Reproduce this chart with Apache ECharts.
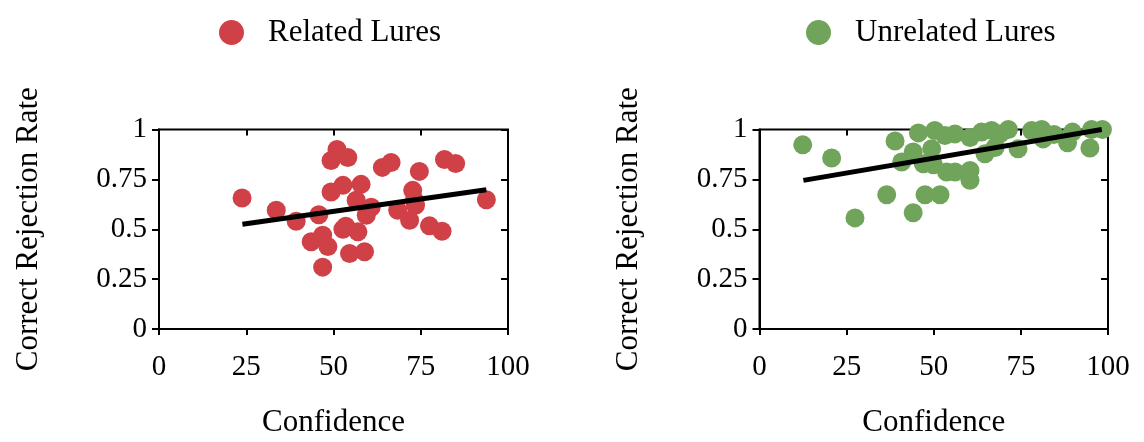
<!DOCTYPE html>
<html>
<head>
<meta charset="utf-8">
<script src="https://cdn.jsdelivr.net/npm/echarts@6/dist/echarts.min.js"></script>
<style>html,body{margin:0;padding:0;background:#fff}#c{width:1144px;height:442px}</style>
</head>
<body>
<div id="c"></div>
<script>
const seriesNames = ['Related Lures', 'Unrelated Lures'];
const xTicks = [0, 25, 50, 75, 100];
const yTicks = [0, 0.25, 0.5, 0.75, 1];
const xTitle = 'Confidence';
const yTitle = 'Correct Rejection Rate';

const relatedPoints = [
  [23.8,0.657],[33.6,0.595],[39.3,0.54],[45.8,0.573],[51,0.90],[49.3,0.845],[54.1,0.86],
  [52.7,0.72],[49.3,0.687],[43.6,0.437],[46.9,0.47],[48.4,0.413],[46.9,0.31],[52.7,0.50],
  [53.5,0.515],[54.6,0.378],[58.9,0.387],[57,0.487],[57.9,0.725],[56.5,0.645],[60.8,0.61],
  [59.4,0.57],[64,0.81],[66.5,0.835],[74.6,0.79],[81.8,0.85],[85,0.83],[72.7,0.695],
  [73.2,0.645],[73.5,0.62],[68.4,0.595],[71.8,0.545],[77.5,0.517],[81.1,0.49],[93.8,0.648]
];
const unrelatedPoints = [
  [12.4,0.923],[20.7,0.857],[27.4,0.557],[36.5,0.673],[38.9,0.942],[40.8,0.837],[44.1,0.887],
  [44.1,0.583],[45.6,0.983],[47,0.828],[47.5,0.673],[49.4,0.903],[49.9,0.823],[50.3,0.995],
  [51.8,0.673],[53.2,0.97],[53.7,0.787],[56.1,0.978],[56.1,0.787],[60.4,0.96],[60.4,0.795],
  [60.4,0.745],[63.7,0.987],[64.7,0.878],[66.6,0.995],[67.6,0.91],[69,0.978],[71.4,1.0],
  [74.2,0.903],[78.1,0.995],[81,1.0],[81.4,0.953],[84.5,0.975],[88.4,0.933],[89.8,0.987],
  [94.8,0.907],[95.3,1.0],[98.4,1.0]
];
const relatedTrend = [[23.9,0.525],[93.8,0.698]];
const unrelatedTrend = [[12.6,0.745],[98.2,1.0]];

const RED = '#CF4047';
const GREEN = '#6FA45A';
const FONT = 'Liberation Serif';

const chart = echarts.init(document.getElementById('c'), null, {renderer: 'canvas'});

function xAx(grid, main) {
  return {
    type: 'value', gridIndex: grid, min: xTicks[0], max: xTicks[xTicks.length-1], interval: 25,
    name: main ? xTitle : '', nameLocation: 'middle', nameGap: 78,
    nameTextStyle: {fontFamily: FONT, fontSize: 31, color: '#000'},
    axisLine: {show: main, onZero: false, lineStyle: {color: '#000', width: 2}},
    axisTick: {show: true, inside: !main, length: 6, lineStyle: {color: '#000', width: 2}},
    axisLabel: {show: main, margin: 24, fontFamily: FONT, fontSize: 29, color: '#000'},
    splitLine: {show: false}
  };
}
function yAx(grid, main) {
  return {
    type: 'value', gridIndex: grid, min: yTicks[0], max: yTicks[yTicks.length-1], interval: 0.25,
    name: main ? yTitle : '', nameLocation: 'middle', nameGap: 115,
    nameTextStyle: {fontFamily: FONT, fontSize: 31, color: '#000'},
    axisLine: {show: main, onZero: false, lineStyle: {color: '#000', width: 2}},
    axisTick: {show: true, inside: !main, length: 7, lineStyle: {color: '#000', width: 2}},
    axisLabel: {show: main, margin: 12, fontFamily: FONT, fontSize: 29, color: '#000',
      formatter: v => String(v)},
    splitLine: {show: false}
  };
}

const legendBase = {
  icon: 'circle', itemWidth: 25, itemHeight: 25, top: 12,
  textStyle: {fontFamily: FONT, fontSize: 31, color: '#000', padding: [0,0,0,19]}
};

chart.setOption({
  animation: false,
  backgroundColor: '#fff',
  legend: [
    Object.assign({}, legendBase, {left: 214, data: [seriesNames[0]]}),
    Object.assign({}, legendBase, {left: 801, data: [seriesNames[1]]})
  ],
  grid: [
    {left: 159, right: 636, top: 129.5, bottom: 113, show: true, borderColor: '#000', borderWidth: 2},
    {left: 759.5, right: 36, top: 129.5, bottom: 113, show: true, borderColor: '#000', borderWidth: 2}
  ],
  xAxis: [xAx(0, true), xAx(0, false), xAx(1, true), xAx(1, false)],
  yAxis: [yAx(0, true), yAx(0, false), yAx(1, true), yAx(1, false)],
  series: [
    {name: seriesNames[0], type: 'scatter', xAxisIndex: 0, yAxisIndex: 0, data: relatedPoints,
     symbolSize: 19, itemStyle: {color: RED, opacity: 1}, z: 2},
    {name: 'trend1', type: 'line', xAxisIndex: 0, yAxisIndex: 0, data: relatedTrend,
     showSymbol: false, lineStyle: {color: '#000', width: 5}, z: 3},
    {name: seriesNames[1], type: 'scatter', xAxisIndex: 2, yAxisIndex: 2, data: unrelatedPoints,
     symbolSize: 19, itemStyle: {color: GREEN, opacity: 1}, z: 2},
    {name: 'trend2', type: 'line', xAxisIndex: 2, yAxisIndex: 2, data: unrelatedTrend,
     showSymbol: false, lineStyle: {color: '#000', width: 5}, z: 3}
  ]
});
</script>
</body>
</html>
